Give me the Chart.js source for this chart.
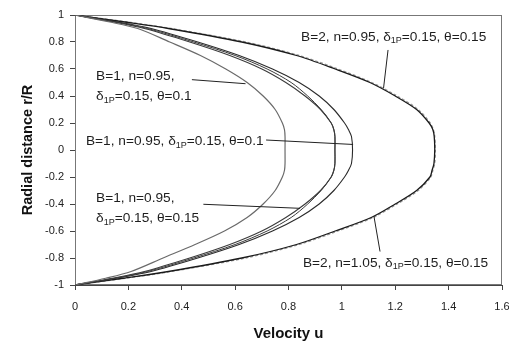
<!DOCTYPE html>
<html>
<head>
<meta charset="utf-8">
<script src="https://cdn.jsdelivr.net/npm/chart.js@4.4.0/dist/chart.umd.min.js"></script>
<style>
  html, body { margin: 0; padding: 0; background: #fff; }
  #wrap { width: 509px; height: 345px; position: relative; }
</style>
</head>
<body>
<div id="wrap"><canvas id="c" width="509" height="345"></canvas></div>
<script>
// Radial positions r/R (shared by all profiles)
const rGrid = [1, 0.95, 0.9, 0.8, 0.7, 0.6, 0.5, 0.4, 0.3, 0.2, 0.15, 0.1, 0,
               -0.1, -0.15, -0.2, -0.3, -0.4, -0.5, -0.6, -0.7, -0.8, -0.9, -0.95, -1];

// Velocity profiles u
const uA  = [0, 0.125, 0.235, 0.355, 0.47, 0.565, 0.645, 0.705, 0.75, 0.777, 0.785, 0.787, 0.787,
             0.787, 0.785, 0.777, 0.75, 0.705, 0.645, 0.56, 0.45, 0.33, 0.21, 0.115, 0];
const uB  = [0, 0.14, 0.26, 0.43, 0.58, 0.70, 0.79, 0.862, 0.92, 0.96, 0.97, 0.974, 0.974,
             0.974, 0.97, 0.96, 0.92, 0.862, 0.79, 0.70, 0.58, 0.43, 0.26, 0.14, 0];
const uB2 = [0, 0.148, 0.272, 0.445, 0.60, 0.72, 0.81, 0.872, 0.922, 0.96, 0.97, 0.974, 0.974,
             0.974, 0.97, 0.96, 0.922, 0.872, 0.81, 0.72, 0.60, 0.445, 0.272, 0.148, 0];
const uC  = [0, 0.155, 0.285, 0.46, 0.615, 0.74, 0.84, 0.915, 0.97, 1.01, 1.025, 1.036, 1.04,
             1.036, 1.025, 1.01, 0.97, 0.915, 0.84, 0.74, 0.615, 0.46, 0.285, 0.155, 0];
const uD  = [0, 0.18, 0.35, 0.625, 0.83, 0.975, 1.105, 1.20, 1.28, 1.327, 1.341, 1.346, 1.348,
             1.345, 1.338, 1.33, 1.28, 1.20, 1.11, 0.975, 0.83, 0.625, 0.35, 0.18, 0];
const uE  = [0, 0.19, 0.36, 0.64, 0.84, 0.985, 1.112, 1.207, 1.286, 1.331, 1.343, 1.348, 1.35,
             1.348, 1.341, 1.333, 1.286, 1.207, 1.117, 0.985, 0.84, 0.64, 0.36, 0.19, 0];

const xTickLabels = ['0', '0.2', '0.4', '0.6', '0.8', '1', '1.2', '1.4', '1.6'];
const yTickLabels = ['-1', '-0.8', '-0.6', '-0.4', '-0.2', '0', '0.2', '0.4', '0.6', '0.8', '1'];

function pts(u) { return u.map((v, i) => ({ x: v, y: rGrid[i] })); }

// Annotation texts (positions in data units)
const notes = [
  { lines: [[['B=2, n=0.95, δ'], ['1P', 1], ['=0.15, θ=0.15']]], u: 0.847, r: 0.837,
    lead: [1.173, 0.741, 1.156, 0.456] },
  { lines: [[['B=2, n=1.05, δ'], ['1P', 1], ['=0.15, θ=0.15']]], u: 0.854, r: -0.837,
    lead: [1.143, -0.752, 1.120, -0.489] },
  { lines: [[['B=1, n=0.95,']], [['δ'], ['1P', 1], ['=0.15, θ=0.1']]], u: 0.079, r: 0.543,
    lead: [0.438, 0.521, 0.639, 0.491] },
  { lines: [[['B=1, n=0.95, δ'], ['1P', 1], ['=0.15, θ=0.1']]], u: 0.041, r: 0.0615,
    lead: [0.716, 0.074, 1.042, 0.041] },
  { lines: [[['B=1, n=0.95,']], [['δ'], ['1P', 1], ['=0.15, θ=0.15']]], u: 0.079, r: -0.358,
    lead: [0.481, -0.402, 0.843, -0.432] }
];

const FONT = 'Liberation Sans, Arial, sans-serif';

const framePlugin = {
  id: 'frame',
  beforeDatasetsDraw(chart) {
    const { ctx, chartArea: a } = chart;
    ctx.save();
    ctx.strokeStyle = '#777';
    ctx.lineWidth = 1;
    ctx.strokeRect(Math.round(a.left) + 0.5, Math.round(a.top) + 0.5,
                   Math.round(a.right - a.left) - 1, Math.round(a.bottom - a.top) - 1);
    ctx.restore();
  }
};

const notePlugin = {
  id: 'notes',
  afterDatasetsDraw(chart) {
    const { ctx } = chart;
    const xs = chart.scales.x, ys = chart.scales.y;
    ctx.save();
    notes.forEach(n => {
      ctx.strokeStyle = '#222';
      ctx.lineWidth = 1;
      ctx.beginPath();
      ctx.moveTo(xs.getPixelForValue(n.lead[0]), ys.getPixelForValue(n.lead[1]));
      ctx.lineTo(xs.getPixelForValue(n.lead[2]), ys.getPixelForValue(n.lead[3]));
      ctx.stroke();
      const x0 = xs.getPixelForValue(n.u);
      let y = ys.getPixelForValue(n.r);
      ctx.fillStyle = '#1e1e1e';
      ctx.textBaseline = 'middle';
      ctx.textAlign = 'left';
      n.lines.forEach(line => {
        let x = x0;
        line.forEach(seg => {
          const sub = seg[1] === 1;
          ctx.font = (sub ? '9px ' : '13.7px ') + FONT;
          ctx.fillText(seg[0], x, sub ? y + 4 : y);
          x += ctx.measureText(seg[0]).width;
        });
        y += 20;
      });
    });
    ctx.restore();
  }
};

const lineDs = (label, u, color, width, dash) => ({
  label, data: pts(u), showLine: true, borderColor: color, borderWidth: width,
  borderDash: dash || [], pointRadius: 0, tension: 0.3, fill: false
});

new Chart(document.getElementById('c'), {
  type: 'scatter',
  data: {
    datasets: [
      lineDs('A', uA, '#6a6a6a', 1.2),
      lineDs('B', uB, '#3a3a3a', 1.1),
      lineDs('B2', uB2, '#3a3a3a', 1.0),
      lineDs('C', uC, '#2a2a2a', 1.1),
      lineDs('D', uD, '#1a1a1a', 1.3),
      lineDs('E', uE, '#9a9a9a', 1.3, [3, 2])
    ]
  },
  options: {
    responsive: false,
    animation: false,
    devicePixelRatio: 1,
    layout: { padding: { left: 0, right: 7, top: 15, bottom: 0 } },
    plugins: { legend: { display: false }, tooltip: { enabled: false } },
    scales: {
      x: {
        type: 'linear', min: 0, max: 1.6,
        afterFit(s) { s.height = 60; s.paddingLeft = 0; s.paddingRight = 0; },
        ticks: { stepSize: 0.2, autoSkip: false, padding: 10, color: '#222',
                 font: { family: FONT, size: 11 },
                 callback: (v, i) => xTickLabels[i] },
        grid: { display: true, drawOnChartArea: false, drawTicks: true, tickLength: 5, color: '#444' },
        border: { display: true, color: '#444' },
        title: { display: true, text: 'Velocity u', color: '#111',
                 font: { family: FONT, size: 15, weight: 'bold' }, padding: { top: 0, bottom: 2 } }
      },
      y: {
        type: 'linear', min: -1, max: 1,
        afterFit(s) { s.width = 75; s.paddingTop = 0; s.paddingBottom = 0; },
        ticks: { stepSize: 0.2, autoSkip: false, padding: 6, color: '#222',
                 font: { family: FONT, size: 11 },
                 callback: (v, i) => yTickLabels[i] },
        grid: { display: true, drawOnChartArea: false, drawTicks: true, tickLength: 5, color: '#444' },
        border: { display: true, color: '#444' },
        title: { display: true, text: 'Radial distance r/R', color: '#111',
                 font: { family: FONT, size: 14.5, weight: 'bold' }, padding: { top: 19, bottom: 0 } }
      }
    }
  },
  plugins: [framePlugin, notePlugin]
});
</script>
</body>
</html>
